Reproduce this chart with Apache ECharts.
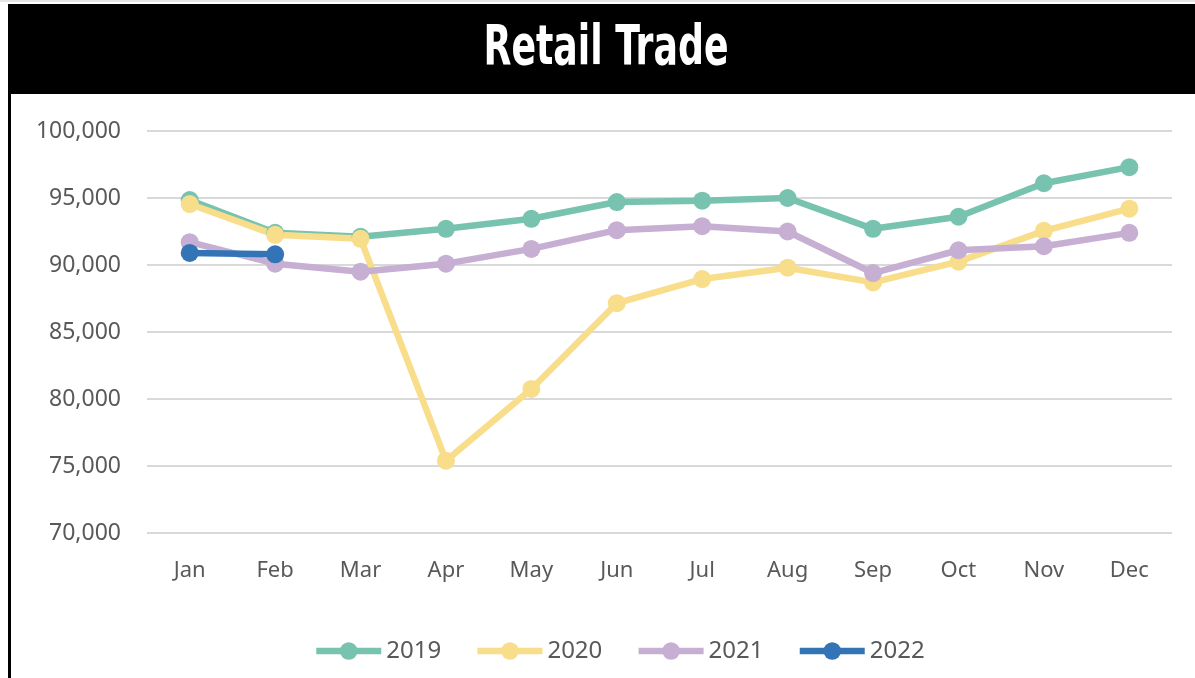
<!DOCTYPE html>
<html>
  <head>
    <meta charset="UTF-8">
    <title>Retail Trade</title>
    <script src="https://cdn.jsdelivr.net/npm/echarts@6/dist/echarts.min.js"></script>
    <style>
      html, body { margin: 0; padding: 0; background: #fff; }
      #chart { width: 1195px; height: 678px; }
    </style>
  </head>
  <body>
    <div id="chart"></div>
    <script>
// month labels on the x axis
const months = ['Jan', 'Feb', 'Mar', 'Apr', 'May', 'Jun', 'Jul', 'Aug', 'Sep', 'Oct', 'Nov', 'Dec'];

// values
const y2019 = [94850, 92400, 92100, 92700, 93450, 94700, 94800, 95000, 92700, 93600, 96100, 97300];
const y2020 = [94550, 92250, 91950, 75400, 80750, 87150, 88950, 89800, 88700, 90250, 92550, 94200];
const y2021 = [91700, 90100, 89500, 90100, 91200, 92600, 92900, 92500, 89400, 91100, 91400, 92400];
const y2022 = [90900, 90800];

const years = ['2019', '2020', '2021', '2022'];
const colors = ['#78C3AF', '#F8DD8B', '#C6AFD2', '#3274B5'];

const labelFont = '"Noto Sans", "Open Sans", sans-serif';

function lineSeries(name, data, color) {
  return {
    name: name,
    type: 'line',
    data: data,
    symbol: 'circle',
    symbolSize: 18,
    lineStyle: { width: 6.5, color: color },
    itemStyle: { color: color },
    emphasis: { disabled: true },
    animation: false
  };
}

const chart = echarts.init(document.getElementById('chart'), null, { renderer: 'canvas' });

chart.setOption({
  animation: false,
  graphic: [
    // faint top edge
    { type: 'rect', shape: { x: 0, y: 0, width: 1195, height: 2 }, style: { fill: '#E6E6E6' } },
    // title band
    { type: 'rect', shape: { x: 8, y: 4, width: 1187, height: 90 }, style: { fill: '#000' } },
    // left frame edge
    { type: 'rect', shape: { x: 8, y: 4, width: 3, height: 674 }, style: { fill: '#000' } },
    {
      type: 'text', x: 606, y: 49, scaleX: 0.72,
      style: {
        text: 'Retail Trade', fill: '#fff',
        font: 'bold 56px "DejaVu Sans Condensed", "DejaVu Sans", sans-serif',
        align: 'center', verticalAlign: 'middle'
      }
    }
  ],
  grid: { left: 147, right: 23, top: 131, bottom: 145, containLabel: false },
  legend: {
    data: years,
    bottom: 10,
    left: 308,
    itemWidth: 65,
    itemHeight: 22,
    itemGap: 33,
    lineStyle: { width: 6.5 },
    textStyle: { fontFamily: labelFont, fontSize: 24, color: '#595959' }
  },
  xAxis: {
    type: 'category',
    data: months,
    boundaryGap: true,
    axisLine: { show: false },
    axisTick: { show: false },
    axisLabel: { fontFamily: labelFont, fontSize: 22, color: '#595959', margin: 27 }
  },
  yAxis: {
    type: 'value',
    min: 70000,
    max: 100000,
    interval: 5000,
    axisLine: { show: false },
    axisTick: { show: false },
    splitLine: { lineStyle: { color: '#D9D9D9', width: 2 } },
    axisLabel: {
      fontFamily: labelFont, fontSize: 23, color: '#595959', margin: 26,
      formatter: v => v.toLocaleString('en-US')
    }
  },
  series: [
    lineSeries('2019', y2019, colors[0]),
    lineSeries('2020', y2020, colors[1]),
    lineSeries('2021', y2021, colors[2]),
    lineSeries('2022', y2022, colors[3])
  ]
});
    </script>
  </body>
</html>
